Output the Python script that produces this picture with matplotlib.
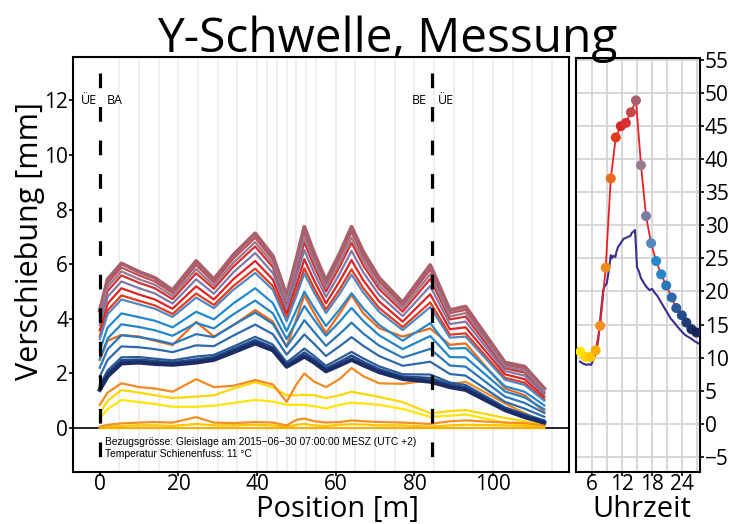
import matplotlib
matplotlib.use("Agg")
import matplotlib.pyplot as plt

plt.rcParams["font.family"] = ["Open Sans", "DejaVu Sans"]

# Positions of the measuring points along the track [m]
POS = [0, 2, 5.5, 10, 14, 18.5, 24.5, 29, 34, 39.5, 44, 47.5, 50, 52, 54.5,
       57.5, 61, 64, 67, 71, 77, 84, 89, 93, 103, 108, 113]

# Displacement profiles [mm], one per hour of the day
h04 = [0.35, 0.7, 1.03, 0.95, 0.88, 0.78, 0.78, 0.82, 0.92, 1.03, 0.97, 0.85, 0.85, 0.85, 0.8,
       0.72, 0.85, 0.93, 0.9, 0.85, 0.7, 0.41, 0.45, 0.5, 0.2, 0.12, 0.05]
h05 = [0.55, 1.0, 1.39, 1.3, 1.2, 1.1, 1.15, 1.2, 1.45, 1.68, 1.5, 1.2, 1.2, 1.22, 1.2,
       1.1, 1.2, 1.33, 1.25, 1.14, 0.95, 0.54, 0.62, 0.66, 0.37, 0.25, 0.1]
h06 = [0.0, 0.05, 0.08, 0.1, 0.1, 0.08, 0.15, 0.1, 0.1, 0.12, 0.1, 0.05, 0.12, 0.15, 0.1,
       0.08, 0.12, 0.14, 0.13, 0.1, 0.1, 0.05, 0.1, 0.12, 0.1, 0.08, 0.05]
h07 = [0.0, 0.0, 0.0, 0.0, 0.0, 0.0, 0.0, 0.0, 0.0, 0.0, 0.0, 0.0, 0.0, 0.0, 0.0,
       0.0, 0.0, 0.0, 0.0, 0.0, 0.0, 0.0, 0.0, 0.0, 0.0, 0.0, 0.0]
h08 = [0.05, 0.12, 0.17, 0.2, 0.22, 0.2, 0.4, 0.2, 0.18, 0.22, 0.2, 0.1, 0.3, 0.35, 0.25,
       0.2, 0.22, 0.28, 0.25, 0.22, 0.2, 0.15, 0.25, 0.28, 0.2, 0.18, 0.1]
h09 = [0.85, 1.3, 1.64, 1.5, 1.45, 1.33, 1.79, 1.5, 1.55, 1.76, 1.6, 0.96, 1.6, 2.0, 1.7,
       1.5, 1.8, 2.2, 1.9, 1.64, 1.62, 1.76, 1.6, 1.7, 0.9, 0.55, 0.2]
h10 = [2.49, 3.2, 3.41, 3.35, 3.2, 3.04, 3.89, 3.35, 3.77, 4.32, 3.9, 2.98, 4.0, 4.87, 4.2,
       3.48, 4.2, 4.87, 4.2, 3.66, 3.35, 3.65, 3.05, 3.1, 1.45, 1.2, 0.6]
h11 = [3.37, 4.31, 4.86, 4.66, 4.49, 4.18, 4.93, 4.51, 5.21, 5.84, 5.2, 4.02, 5.0, 5.85, 5.12,
       4.34, 5.09, 5.81, 5.12, 4.4, 3.7, 4.6, 3.42, 3.47, 1.84, 1.66, 1.05]
h12 = [3.58, 4.56, 5.12, 4.89, 4.71, 4.37, 5.19, 4.71, 5.46, 6.12, 5.44, 4.2, 5.26, 6.18, 5.4,
       4.57, 5.38, 6.15, 5.41, 4.64, 3.9, 4.9, 3.62, 3.69, 1.97, 1.79, 1.14]
h13 = [3.95, 5.02, 5.59, 5.32, 5.12, 4.72, 5.67, 5.1, 5.92, 6.65, 5.89, 4.54, 5.75, 6.8, 5.92,
       5.0, 5.91, 6.79, 5.95, 5.09, 4.26, 5.46, 3.98, 4.08, 2.19, 2.03, 1.3]
h14 = [4.18, 5.31, 5.88, 5.59, 5.37, 4.94, 5.97, 5.33, 6.21, 6.97, 6.16, 4.75, 6.05, 7.18, 6.24,
       5.27, 6.24, 7.18, 6.28, 5.36, 4.49, 5.8, 4.21, 4.33, 2.33, 2.18, 1.4]
h15 = [4.3, 5.45, 6.03, 5.72, 5.5, 5.05, 6.12, 5.45, 6.35, 7.13, 6.3, 4.85, 6.2, 7.37, 6.4,
       5.4, 6.4, 7.37, 6.45, 5.5, 4.6, 5.97, 4.32, 4.45, 2.4, 2.25, 1.45]
h16 = [4.07, 5.17, 5.74, 5.45, 5.25, 4.83, 5.82, 5.21, 6.06, 6.81, 6.02, 4.64, 5.9, 6.99, 6.08,
       5.13, 6.07, 6.98, 6.12, 5.22, 4.38, 5.63, 4.09, 4.21, 2.26, 2.1, 1.35]
h17 = [3.78, 4.81, 5.37, 5.12, 4.93, 4.56, 5.45, 4.92, 5.71, 6.41, 5.68, 4.38, 5.53, 6.52, 5.68,
       4.8, 5.66, 6.49, 5.7, 4.88, 4.1, 5.2, 3.81, 3.9, 2.09, 1.92, 1.23]
h18 = [3.26, 4.17, 4.71, 4.53, 4.37, 4.07, 4.78, 4.39, 5.07, 5.68, 5.06, 3.91, 4.85, 5.66, 4.96,
       4.21, 4.92, 5.62, 4.96, 4.26, 3.59, 4.43, 3.31, 3.35, 1.77, 1.58, 1.0]
h19 = [2.85, 3.68, 4.2, 4.06, 3.93, 3.69, 4.26, 3.98, 4.57, 5.12, 4.58, 3.55, 4.33, 5.0, 4.4,
       3.74, 4.35, 4.94, 4.38, 3.78, 3.2, 3.84, 2.91, 2.93, 1.53, 1.33, 0.83]
h20 = [2.53, 3.28, 3.8, 3.7, 3.58, 3.38, 3.85, 3.65, 4.17, 4.67, 4.2, 3.26, 3.91, 4.47, 3.96,
       3.38, 3.9, 4.4, 3.92, 3.4, 2.89, 3.37, 2.6, 2.59, 1.34, 1.12, 0.69]
h21 = [2.21, 2.89, 3.4, 3.33, 3.23, 3.08, 3.44, 3.33, 3.78, 4.23, 3.82, 2.98, 3.5, 3.95, 3.52,
       3.01, 3.45, 3.86, 3.46, 3.02, 2.58, 2.9, 2.29, 2.25, 1.15, 0.92, 0.55]
h22 = [1.89, 2.5, 2.99, 2.96, 2.89, 2.78, 3.03, 3.0, 3.39, 3.79, 3.44, 2.69, 3.09, 3.43, 3.08,
       2.64, 3.0, 3.33, 3.01, 2.64, 2.28, 2.43, 1.98, 1.92, 0.96, 0.71, 0.41]
h23 = [1.57, 2.11, 2.59, 2.6, 2.54, 2.48, 2.62, 2.68, 2.99, 3.34, 3.06, 2.41, 2.68, 2.91, 2.64,
       2.28, 2.55, 2.79, 2.55, 2.26, 1.97, 1.96, 1.67, 1.58, 0.76, 0.51, 0.28]
h24 = [1.49, 2.01, 2.48, 2.5, 2.45, 2.4, 2.51, 2.59, 2.89, 3.22, 2.95, 2.33, 2.56, 2.76, 2.52,
       2.18, 2.42, 2.65, 2.42, 2.15, 1.88, 1.83, 1.59, 1.49, 0.71, 0.46, 0.24]
h26 = [1.4, 1.9, 2.37, 2.4, 2.35, 2.32, 2.4, 2.5, 2.78, 3.1, 2.85, 2.25, 2.45, 2.62, 2.4,
       2.08, 2.3, 2.5, 2.3, 2.05, 1.8, 1.7, 1.5, 1.4, 0.66, 0.4, 0.2]

PROFILES = [h04, h05, h06, h07, h08, h09, h10, h11, h12, h13, h14, h15, h16,
            h17, h18, h19, h20, h21, h22, h23, h24, h26]
COLORS = ["#ffe600", "#ffd700", "#ffc400", "#f5b000", "#f59020", "#f58a20", "#ee6a1a",
          "#e23a1c", "#dd2424", "#d83030", "#c05058", "#a8606c", "#9a788e", "#7c7aa6",
          "#5486c0", "#2488cc", "#2484c8", "#2a78b8", "#2e6aaa", "#2a5a98", "#204a88",
          "#1c2c66"]
WIDTHS = [1.6] * 11 + [2.8] + [1.6] * 8 + [2.0, 3.0]

# Sensor grid lines [m]
GRID_POS = [5, 10, 15, 20, 25, 30, 35, 40, 42.5, 45, 47.5, 50, 52.5, 55,
            60, 65, 70, 75, 80, 85, 90, 95, 100, 105, 110, 115]

# Temperature time series (right panel)
TIME = [3.8, 4.8, 5.8, 6.8, 7.7, 8.8, 9.8, 10.8, 11.8, 12.8, 13.8, 14.8,
        15.8, 16.8, 17.8, 18.8, 19.8, 20.8, 21.9, 22.8, 23.9, 24.8, 25.8, 26.8]
RAIL_TEMP = [10.9, 10.1, 10.1, 11.1, 14.8, 23.6, 37.1, 43.3, 45.0, 45.5, 47.1, 48.9,
             39.1, 31.4, 27.3, 24.6, 22.6, 20.9, 19.1, 17.5, 16.4, 15.3, 14.3, 13.8]
DOT_COLORS = ["#ffe600", "#ffd700", "#ffc400", "#f8b000", "#f59020", "#f58a20",
              "#ee6a1a", "#e23a1c", "#dd2424", "#d83030", "#c44848", "#a8606c",
              "#9a788e", "#7c7aa6", "#5486c0", "#2488cc", "#2484c8", "#2a78b8",
              "#2e6aaa", "#2a5a98", "#204a88", "#1c3c78", "#1c2e68", "#1a2358"]
AIR_TIME = [3.7, 4.3, 5.0, 5.4, 5.9, 6.3, 6.8, 7.3, 7.8, 8.3, 8.6, 9.0, 9.3, 9.5, 9.8,
            10.0, 10.3, 10.7, 11.0, 11.3, 11.7, 12.0, 12.4, 12.8, 13.3, 13.7, 14.0,
            14.4, 14.6, 14.8, 15.0, 15.4, 15.8, 16.2, 16.6, 17.0, 17.5, 18.0, 18.5,
            19.0, 19.6, 20.3, 21.0, 21.7, 22.4, 23.0, 23.7, 24.3, 25.0, 25.7, 26.4, 27.3]
AIR_TEMP = [9.4, 9.1, 8.9, 9.0, 8.9, 9.6, 10.5, 12.6, 16.5, 20.2, 20.8, 21.2, 22.6,
            23.7, 25.5, 25.0, 25.4, 25.2, 26.2, 26.8, 27.2, 27.6, 28.0, 28.1, 28.3,
            28.4, 28.9, 29.1, 29.3, 26.8, 23.7, 23.0, 22.0, 21.5, 21.0, 20.6, 20.2,
            20.4, 19.8, 19.4, 18.6, 17.7, 16.8, 15.9, 15.3, 14.7, 14.1, 13.6, 13.2,
            12.9, 12.5, 12.1]

fig = plt.figure(figsize=(7.43, 5.24), dpi=100)
ax = fig.add_axes([0.0983, 0.0992, 0.6676, 0.792])
ax2 = fig.add_axes([0.7752, 0.0992, 0.1669, 0.790])

# --- left panel: displacement profiles
for gx in GRID_POS:
    ax.axvline(gx, color="#ebebeb", lw=1.1, zorder=0)
ax.axhline(0, color="black", lw=1.2, zorder=1)
for prof, col, w in zip(PROFILES, COLORS, WIDTHS):
    ax.plot(POS, prof, color=col, lw=w, solid_joinstyle="round", zorder=2)

ymin, ymax = -1.61, 13.59
for xd in (0, 84.5):
    ax.plot([xd, xd], [13.0, ymin], color="black", lw=2.3,
            ls=(0, (4.6, 5.9)), zorder=3, clip_on=False)
ax.text(-0.8, 12, "ÜE", ha="right", va="center", fontsize=9)
ax.text(1.7, 12, "BA", ha="left", va="center", fontsize=9)
ax.text(83.0, 12, "BE", ha="right", va="center", fontsize=9)
ax.text(86.0, 12, "ÜE", ha="left", va="center", fontsize=9)
ax.text(1.4, -0.51, "Bezugsgrösse: Gleislage am 2015\u221206\u221230 07:00:00 MESZ (UTC +2)",
        ha="left", va="center", fontsize=7.4, family="Liberation Sans")
ax.text(1.4, -0.95, "Temperatur Schienenfuss: 11 °C",
        ha="left", va="center", fontsize=7.4, family="Liberation Sans")

ax.set_xlim(-6.8, 119.3)
ax.set_ylim(ymin, ymax)
ax.set_xticks([0, 20, 40, 60, 80, 100])
ax.set_yticks([0, 2, 4, 6, 8, 10, 12])
ax.tick_params(labelsize=15, length=3, width=1.2, pad=0.5)
ax.tick_params(axis="x", pad=-1.5)
for s in ax.spines.values():
    s.set_linewidth(1.5)

# --- right panel: temperatures
ax2.set_xlim(2.9, 27.5)
ax2.set_ylim(-7.3, 55.3)
ax2.set_xticks([6, 12, 18, 24])
ax2.set_xticks([3, 9, 15, 21, 27], minor=True)
ax2.set_yticks(list(range(-5, 56, 5)))
ax2.set_yticklabels(["\u22125"] + [str(v) for v in range(0, 56, 5)])
ax2.grid(True, which="both", color="#d4d4d4", lw=1.3)
ax2.set_axisbelow(True)
ax2.yaxis.tick_right()
ax2.tick_params(labelsize=15, length=3, width=1.2, pad=0.5)
ax2.tick_params(axis="x", pad=-1.5)
ax2.tick_params(which="minor", length=0)
for s in ax2.spines.values():
    s.set_linewidth(1.5)
ax2.plot(AIR_TIME, AIR_TEMP, color="#3a2e8c", lw=1.5, zorder=2)
ax2.plot(TIME, RAIL_TEMP, color="#e8202a", lw=1.3, zorder=3)
ax2.scatter(TIME, RAIL_TEMP, c=DOT_COLORS, s=52, zorder=4, linewidths=0)

# --- labels
fig.text(0.521, 1 - 52 / 524, "Y-Schwelle, Messung", ha="center", va="baseline", fontsize=34.5)
fig.text(30 / 743, 1 - 241 / 524, "Verschiebung [mm]", ha="center", va="center",
         rotation=90, fontsize=22)
fig.text(338 / 743, 1 - 517 / 524, "Position [m]", ha="center", va="baseline", fontsize=21)
fig.text(642 / 743, 1 - 517 / 524, "Uhrzeit", ha="center", va="baseline", fontsize=21)

fig.savefig("out.png", dpi=100)
